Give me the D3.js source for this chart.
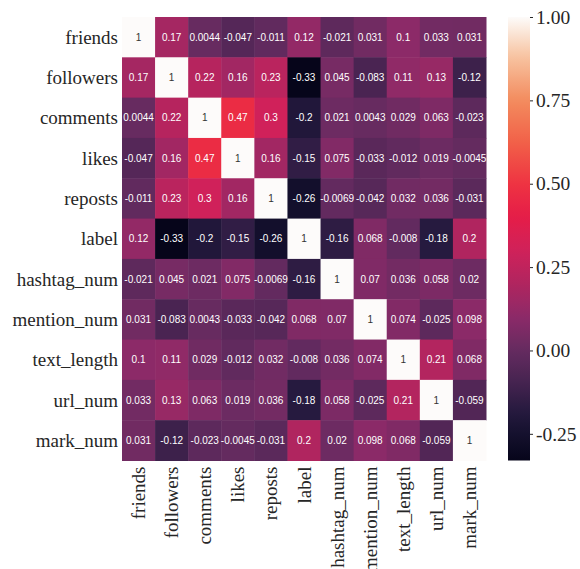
<!DOCTYPE html>
<html>
<head>
<meta charset="utf-8">
<script src="https://cdn.jsdelivr.net/npm/d3@7"></script>
<style>
  html, body { margin: 0; padding: 0; background: #fff; }
  svg { display: block; }
</style>
</head>
<body>
<svg id="chart" width="580" height="569"></svg>
<script>
const variables = ["friends", "followers", "comments", "likes", "reposts", "label",
  "hashtag_num", "mention_num", "text_length", "url_num", "mark_num"];

const friendsRow     = [1, 0.17, 0.0044, -0.047, -0.011, 0.12, -0.021, 0.031, 0.1, 0.033, 0.031];
const followersRow   = [0.17, 1, 0.22, 0.16, 0.23, -0.33, 0.045, -0.083, 0.11, 0.13, -0.12];
const commentsRow    = [0.0044, 0.22, 1, 0.47, 0.3, -0.2, 0.021, 0.0043, 0.029, 0.063, -0.023];
const likesRow       = [-0.047, 0.16, 0.47, 1, 0.16, -0.15, 0.075, -0.033, -0.012, 0.019, -0.0045];
const repostsRow     = [-0.011, 0.23, 0.3, 0.16, 1, -0.26, -0.0069, -0.042, 0.032, 0.036, -0.031];
const labelRow       = [0.12, -0.33, -0.2, -0.15, -0.26, 1, -0.16, 0.068, -0.008, -0.18, 0.2];
const hashtagRow     = [-0.021, 0.045, 0.021, 0.075, -0.0069, -0.16, 1, 0.07, 0.036, 0.058, 0.02];
const mentionRow     = [0.031, -0.083, 0.0043, -0.033, -0.042, 0.068, 0.07, 1, 0.074, -0.025, 0.098];
const textLengthRow  = [0.1, 0.11, 0.029, -0.012, 0.032, -0.008, 0.036, 0.074, 1, 0.21, 0.068];
const urlRow         = [0.033, 0.13, 0.063, 0.019, 0.036, -0.18, 0.058, -0.025, 0.21, 1, -0.059];
const markRow        = [0.031, -0.12, -0.023, -0.0045, -0.031, 0.2, 0.02, 0.098, 0.068, -0.059, 1];

const matrix = [friendsRow, followersRow, commentsRow, likesRow, repostsRow, labelRow,
  hashtagRow, mentionRow, textLengthRow, urlRow, markRow];

const colorbarTicks = [1.00, 0.75, 0.50, 0.25, 0.00, -0.25];
const vmin = -0.33, vmax = 1.0;

// colormap (rocket-like, as seen in the picture)
const colorValues = [-0.33, -0.25, -0.18, -0.1, 0.0, 0.1, 0.2, 0.3, 0.4, 0.5, 0.62, 0.75, 0.88, 1.0];
const colorHexes  = ["#06051a", "#15112e", "#261a3f", "#44234f", "#652b60", "#8c2a68", "#b0255f",
                     "#d0215a", "#e51d48", "#ee3342", "#f15f48", "#f38b5e", "#f7c3a0", "#fdfbfa"];
const color = d3.scaleLinear().domain(colorValues).range(colorHexes)
  .interpolate(d3.interpolateRgb).clamp(true);

const SERIF = "'Liberation Serif'";
const SANS = "'Liberation Sans'";

const svg = d3.select("#chart");
const L = 122, R = 486, T = 17, B = 460.5;

const x = d3.scaleBand().domain(variables).range([L, R]).padding(0);
const y = d3.scaleBand().domain(variables).range([T, B]).padding(0);

const cells = [];
matrix.forEach((row, i) => row.forEach((v, j) => cells.push({ r: variables[i], c: variables[j], v })));

svg.append("g").selectAll("rect").data(cells).join("rect")
  .attr("x", d => x(d.c))
  .attr("y", d => y(d.r))
  .attr("width", x.bandwidth() + 0.5)
  .attr("height", y.bandwidth() + 0.5)
  .attr("fill", d => color(d.v));

function luminance(c) {
  const rgb = d3.rgb(c);
  const f = u => { u /= 255; return u <= 0.03928 ? u / 12.92 : Math.pow((u + 0.055) / 1.055, 2.4); };
  return 0.2126 * f(rgb.r) + 0.7152 * f(rgb.g) + 0.0722 * f(rgb.b);
}
const fmt = v => {
  if (v === 1) return "1";
  return d3.format(".2")(v).replace("\u2212", "-");
};

svg.append("g").selectAll("text").data(cells).join("text")
  .attr("x", d => x(d.c) + x.bandwidth() / 2)
  .attr("y", d => y(d.r) + y.bandwidth() / 2)
  .attr("text-anchor", "middle")
  .attr("dominant-baseline", "central")
  .style("font-family", SANS)
  .style("font-size", "10px")
  .attr("fill", d => luminance(color(d.v)) > 0.408 ? "#333333" : "#ffffff")
  .text(d => fmt(d.v));

// Y labels
svg.append("g").selectAll("text").data(variables).join("text")
  .attr("x", 118)
  .attr("y", d => y(d) + y.bandwidth() / 2)
  .attr("text-anchor", "end")
  .attr("dominant-baseline", "central")
  .style("font-family", SERIF)
  .style("font-size", "19px")
  .attr("fill", "#262626")
  .text(d => d);

// X labels
svg.append("g").selectAll("text").data(variables).join("text")
  .attr("transform", d => `translate(${x(d) + x.bandwidth() / 2},${B + 6}) rotate(-90)`)
  .attr("text-anchor", "end")
  .attr("dominant-baseline", "central")
  .style("font-family", SERIF)
  .style("font-size", "19px")
  .attr("fill", "#262626")
  .text(d => d);

// Colorbar
const cbL = 508, cbR = 530;
const cy = d3.scaleLinear().domain([vmin, vmax]).range([B, T]);
const defs = svg.append("defs");
const grad = defs.append("linearGradient").attr("id", "cbgrad")
  .attr("x1", 0).attr("y1", 1).attr("x2", 0).attr("y2", 0);
d3.range(0, 1.0001, 0.02).forEach(t => {
  grad.append("stop").attr("offset", t).attr("stop-color", color(vmin + t * (vmax - vmin)));
});
svg.append("rect")
  .attr("x", cbL).attr("y", T)
  .attr("width", cbR - cbL).attr("height", B - T)
  .attr("fill", "url(#cbgrad)");

const cbAxis = d3.axisRight(cy).tickValues(colorbarTicks)
  .tickFormat(d => d3.format(".2f")(d).replace("\u2212", "-")).tickSize(3).tickPadding(3);
const cbG = svg.append("g").attr("transform", `translate(${cbR},0)`).call(cbAxis);
cbG.attr("font-family", null).attr("font-size", null);
cbG.select(".domain").remove();
cbG.selectAll(".tick line").attr("stroke", "#262626").attr("stroke-width", 1);
cbG.selectAll(".tick text")
  .style("font-family", SERIF)
  .style("font-size", "19.5px")
  .attr("fill", "#262626");
</script>
</body>
</html>
